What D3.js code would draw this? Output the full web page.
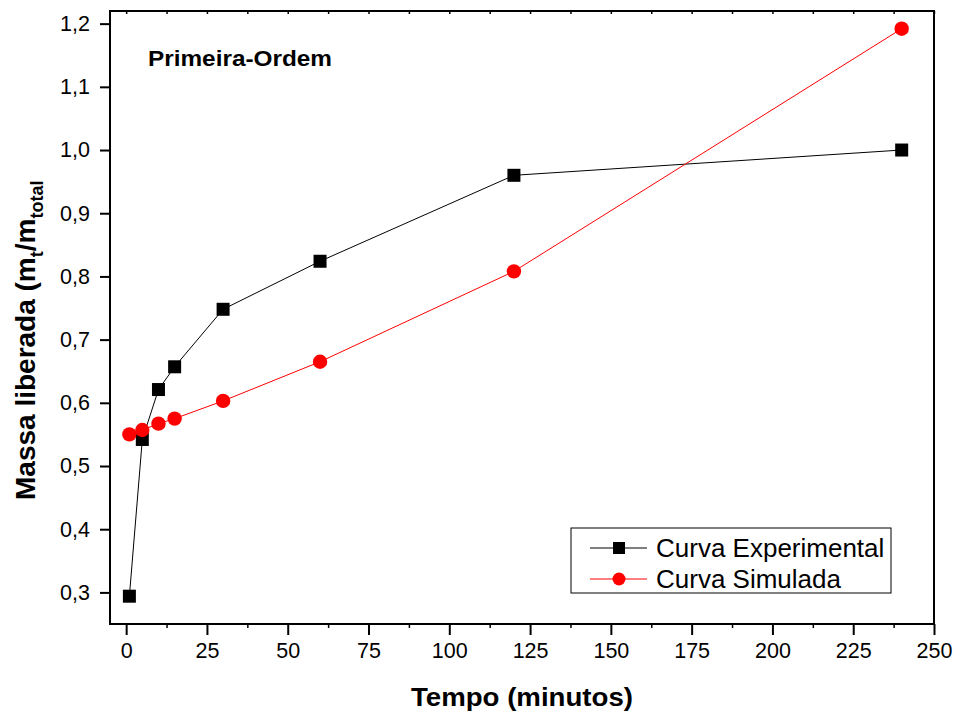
<!DOCTYPE html>
<html>
<head>
<meta charset="utf-8">
<script src="https://cdn.jsdelivr.net/npm/d3@7"></script>
<style>
  html, body { margin: 0; padding: 0; background: #fff; }
  svg { display: block; font-family: Arial, "Liberation Sans", sans-serif; }
</style>
</head>
<body>
<svg id="chart" width="959" height="718"></svg>
<script>
// ---- data ----
const tempo = [1, 5, 10, 15, 30, 60, 120, 240];
const experimental = [0.294, 0.542, 0.621, 0.657, 0.748, 0.824, 0.960, 1.000];
const simulada = [0.550, 0.557, 0.567, 0.575, 0.603, 0.665, 0.808, 1.192];
const xTicks = [0, 25, 50, 75, 100, 125, 150, 175, 200, 225, 250];
const yTicks = [0.3, 0.4, 0.5, 0.6, 0.7, 0.8, 0.9, 1.0, 1.1, 1.2];
const seriesNames = ["Curva Experimental", "Curva Simulada"];

// ---- layout ----
const L = 110, R = 934, T = 11, B = 624;
const svg = d3.select("#chart");
const x = d3.scaleLinear().domain([-5, 250]).range([L, R]);
const y = d3.scaleLinear().domain([0.25, 1.22]).range([B, T]);
const fmt = d => d3.format(".1f")(d).replace(".", ",");

// bottom axis major
const xAxis = d3.axisBottom(x).tickValues(xTicks).tickSize(11).tickPadding(8).tickFormat(d3.format("d"));
const gx = svg.append("g").attr("transform", `translate(0,${B})`).call(xAxis);
gx.select(".domain").remove();
gx.selectAll(".tick line").attr("stroke", "#000").attr("stroke-width", 2);
gx.selectAll(".tick text").attr("font-size", 21.5).attr("fill", "#000")
  .attr("font-family", "Arial, 'Liberation Sans', sans-serif");

// bottom minor
const minorX = d3.range(0, 251, 12.5).filter(v => v % 25 !== 0);
const gxm = svg.append("g").attr("transform", `translate(0,${B})`)
  .call(d3.axisBottom(x).tickValues(minorX).tickSize(4).tickFormat(""));
gxm.select(".domain").remove();
gxm.selectAll(".tick line").attr("stroke", "#000").attr("stroke-width", 1.5);

// top ticks inward
const gxt = svg.append("g").attr("transform", `translate(0,${T})`)
  .call(d3.axisBottom(x).tickValues(d3.range(0, 251, 12.5)).tickSize(3).tickFormat(""));
gxt.select(".domain").remove();
gxt.selectAll(".tick line").attr("stroke", "#000").attr("stroke-width", 1.5);

// left axis
const yAxis = d3.axisLeft(y).tickValues(yTicks).tickSize(10).tickPadding(10).tickFormat(fmt);
const gy = svg.append("g").attr("transform", `translate(${L},0)`).call(yAxis);
gy.select(".domain").remove();
gy.selectAll(".tick line").attr("stroke", "#000").attr("stroke-width", 2);
gy.selectAll(".tick text").attr("font-size", 21.5).attr("fill", "#000")
  .attr("font-family", "Arial, 'Liberation Sans', sans-serif");

// frame
svg.append("rect").attr("x", L).attr("y", T).attr("width", R - L).attr("height", B - T)
  .attr("fill", "none").attr("stroke", "#000").attr("stroke-width", 2);

// lines
const line = d3.line().x(d => x(d[0])).y(d => y(d[1]));
const expData = tempo.map((t, i) => [t, experimental[i]]);
const simData = tempo.map((t, i) => [t, simulada[i]]);

svg.append("path").datum(expData).attr("d", line).attr("fill", "none").attr("stroke", "#000").attr("stroke-width", 1);
svg.append("path").datum(simData).attr("d", line).attr("fill", "none").attr("stroke", "#ff0000").attr("stroke-width", 1);

const sq = 13;
svg.selectAll(".sq").data(expData).enter().append("rect")
  .attr("x", d => x(d[0]) - sq / 2).attr("y", d => y(d[1]) - sq / 2)
  .attr("width", sq).attr("height", sq).attr("fill", "#000");
svg.selectAll(".ci").data(simData).enter().append("circle")
  .attr("cx", d => x(d[0])).attr("cy", d => y(d[1])).attr("r", 7.2).attr("fill", "#ff0000");

// label
svg.append("text").attr("x", 148).attr("y", 66).attr("font-size", 22).attr("font-weight", "bold")
  .attr("textLength", 184).attr("lengthAdjust", "spacingAndGlyphs")
  .text("Primeira-Ordem");

// axis titles
svg.append("text").attr("x", (L + R) / 2).attr("y", 706).attr("text-anchor", "middle")
  .attr("font-size", 25).attr("font-weight", "bold")
  .attr("textLength", 222).attr("lengthAdjust", "spacingAndGlyphs")
  .text("Tempo (minutos)");

const yt = svg.append("text").attr("transform", "translate(35,500) rotate(-90)")
  .attr("font-size", 28).attr("font-weight", "bold");
yt.append("tspan").text("Massa liberada (m");
yt.append("tspan").attr("font-size", 18).attr("dy", 8).text("t");
yt.append("tspan").attr("dy", -8).text("/m");
yt.append("tspan").attr("font-size", 18).attr("dy", 8).text("total");

// legend
const lg = svg.append("g");
lg.append("rect").attr("x", 571).attr("y", 528).attr("width", 320).attr("height", 65)
  .attr("fill", "#fff").attr("stroke", "#000").attr("stroke-width", 1);
const rows = [548, 579];
const colors = ["#000", "#ff0000"];
rows.forEach((ry, i) => {
  lg.append("line").attr("x1", 590).attr("x2", 647).attr("y1", ry).attr("y2", ry)
    .attr("stroke", colors[i]).attr("stroke-width", 1);
  if (i === 0) {
    lg.append("rect").attr("x", 619 - 6).attr("y", ry - 6).attr("width", 12).attr("height", 12).attr("fill", "#000");
  } else {
    lg.append("circle").attr("cx", 619).attr("cy", ry).attr("r", 6.5).attr("fill", "#ff0000");
  }
  lg.append("text").attr("x", 656).attr("y", ry + 9).attr("font-size", 26).text(seriesNames[i]);
});
</script>
</body>
</html>
